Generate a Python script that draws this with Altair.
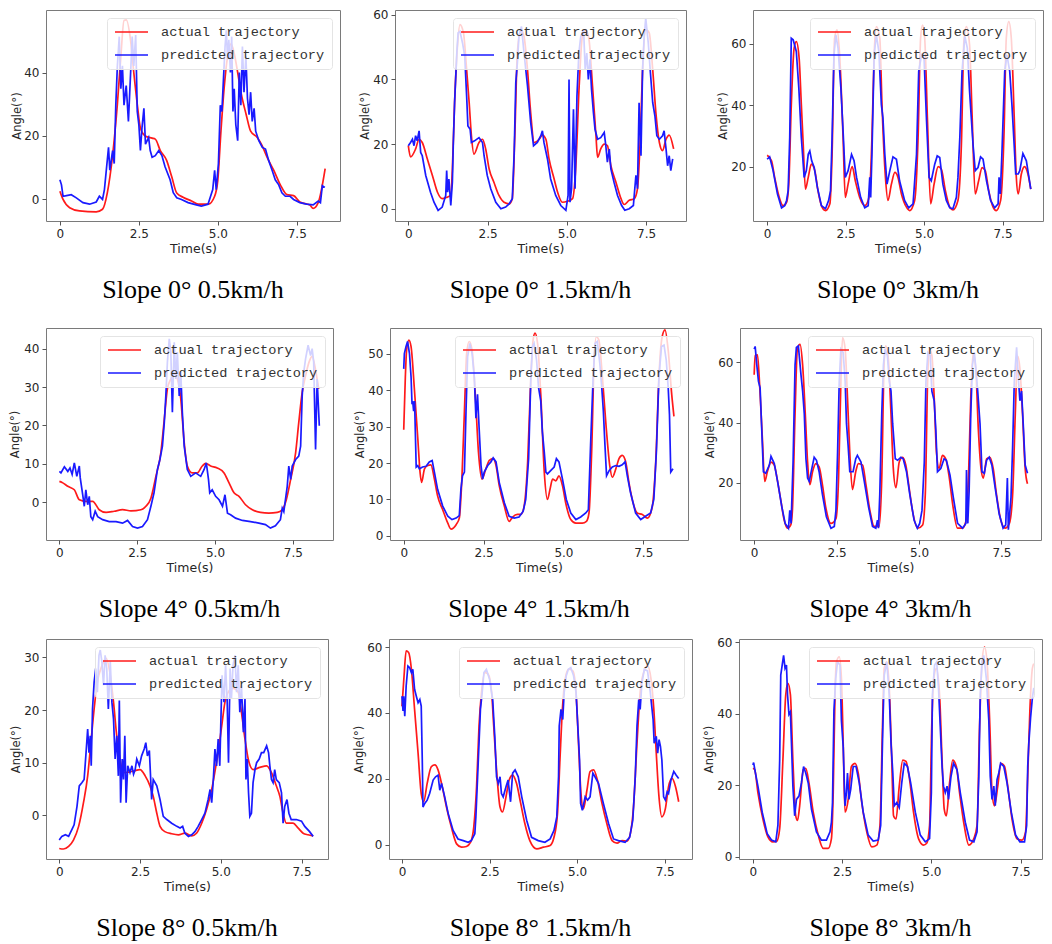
import altair as alt
import pandas as pd

# ---------------- data: [time (s), angle (deg)] ----------------
A1 = [[0,2.6],[0.1,0],[0.31,-2.6],[0.62,-3.6],[1.15,-3.9],[1.35,-3.1],[1.5,2],[1.67,14],[1.82,30],[1.93,45],[2.03,56.4],[2.1,56.6],[2.24,50],[2.34,40],[2.45,30],[2.55,22.5],[2.7,20],[2.92,19.3],[3.02,19],[3.18,15.4],[3.38,12.3],[3.54,7.2],[3.7,2],[3.9,0.7],[4.17,-0.5],[4.38,-1.5],[4.7,-1.5],[4.9,1],[5.0,6],[5.1,21.5],[5.2,35],[5.31,45],[5.42,49],[5.52,46],[5.63,40],[5.73,34],[5.9,26.7],[6.04,21.5],[6.25,19.5],[6.4,17],[6.56,13.3],[6.77,9.2],[6.98,4.6],[7.19,1.5],[7.4,1.2],[7.6,-0.8],[7.92,-1.8],[8.02,-2.8],[8.18,-1],[8.4,9.7]]
P1 = [[0,6.2],[0.05,4.6],[0.1,1.0],[0.21,1.2],[0.36,1.5],[0.52,0.5],[0.73,-1.0],[0.94,-1.5],[1.15,-0.8],[1.25,1.0],[1.35,0],[1.41,3.1],[1.46,8.2],[1.54,16.4],[1.58,9.2],[1.67,15.4],[1.72,11.3],[1.77,29.7],[1.82,42.1],[1.88,51.3],[1.93,34.9],[1.98,42.1],[2.03,29.7],[2.1,35.9],[2.17,24.6],[2.24,40],[2.29,51.3],[2.34,42.1],[2.4,51.8],[2.45,27.7],[2.5,23.6],[2.55,15.4],[2.6,22.6],[2.66,28.7],[2.71,17.4],[2.81,19.5],[2.86,15.4],[2.92,13.3],[3.02,13.8],[3.13,15.4],[3.23,13.8],[3.33,10.3],[3.49,6.2],[3.59,2.1],[3.7,0.5],[3.85,0],[4.06,-1.0],[4.32,-1.7],[4.48,-2.1],[4.69,-1.5],[4.84,3.1],[4.9,9.2],[4.95,3.1],[5.02,11.3],[5.08,29.7],[5.13,27.7],[5.19,40],[5.23,48.2],[5.27,53.3],[5.31,44.1],[5.35,50.3],[5.4,40],[5.44,51.3],[5.48,27.7],[5.52,34.9],[5.57,23.6],[5.63,18.5],[5.68,40],[5.73,29.7],[5.78,48.2],[5.83,33.8],[5.89,45.1],[5.94,31.8],[5.99,26.7],[6.04,33.8],[6.09,24.6],[6.15,28.7],[6.2,21.5],[6.3,18.5],[6.41,16.4],[6.51,15.9],[6.61,12.3],[6.72,9.2],[6.82,6.2],[6.93,4.6],[7.03,2.1],[7.14,1.0],[7.29,1.0],[7.4,0],[7.6,-1.0],[7.81,-1.5],[8.02,-1.7],[8.18,-0.5],[8.25,-1.0],[8.31,4.3],[8.39,3.8]]

A2 = [[0,19.5],[0.07,16],[0.23,18.5],[0.34,21.5],[0.44,20.5],[0.6,15.4],[0.76,10.3],[0.92,5.1],[1.07,3.1],[1.23,3.6],[1.34,4.1],[1.39,12.3],[1.46,32.8],[1.55,50.3],[1.63,57],[1.74,54.4],[1.84,43],[1.92,32.8],[1.99,22.6],[2.07,16.9],[2.23,20.5],[2.34,21.5],[2.44,18.5],[2.55,12.3],[2.7,8.2],[2.86,4.1],[3.02,2],[3.18,1.5],[3.28,3.1],[3.36,22.6],[3.44,48.2],[3.55,55.4],[3.65,53.3],[3.76,43],[3.86,29.7],[3.97,20.5],[4.13,21.5],[4.23,22.8],[4.34,21.5],[4.44,15.4],[4.6,9.2],[4.71,5.1],[4.86,2],[5.02,2.3],[5.18,3.1],[5.28,12.3],[5.39,38],[5.49,53.3],[5.6,55.4],[5.7,52.3],[5.81,38],[5.92,22.6],[5.97,15.9],[6.07,18.5],[6.18,20],[6.28,19.5],[6.39,13.3],[6.55,8.2],[6.71,3.1],[6.81,1.3],[6.97,2.6],[7.13,3.1],[7.23,6.2],[7.32,22.6],[7.39,43],[7.49,55.4],[7.6,54.4],[7.71,43],[7.81,29.7],[7.92,20.5],[8.02,18],[8.13,21.5],[8.23,22.8],[8.37,18.5]]
P2 = [[0,19.5],[0.07,20.5],[0.13,21.5],[0.18,19.5],[0.23,22.6],[0.28,21],[0.34,24.1],[0.39,17.4],[0.44,16.4],[0.55,10.3],[0.7,5.1],[0.81,2],[0.94,-0.5],[1.07,0.5],[1.18,4.1],[1.21,11.8],[1.24,5.1],[1.28,9.2],[1.34,1],[1.39,8.2],[1.42,20.5],[1.46,32.8],[1.53,48.2],[1.57,54.4],[1.63,54.9],[1.71,51.3],[1.78,47.2],[1.84,34.9],[1.88,25.6],[1.95,24.6],[1.99,20.5],[2.09,21],[2.23,22],[2.34,20.5],[2.39,16.4],[2.49,10.3],[2.6,6.2],[2.76,2],[2.92,0],[3.07,0.5],[3.18,1.5],[3.28,3.1],[3.34,17.4],[3.39,39],[3.44,45],[3.49,53.3],[3.57,56.4],[3.65,48.2],[3.76,38],[3.86,26.7],[3.95,19.5],[4.07,20.5],[4.18,22.6],[4.23,24.1],[4.28,20.5],[4.39,15.4],[4.49,9.2],[4.65,4.1],[4.81,1],[4.97,-0.5],[5.04,4.1],[5.07,40],[5.1,2],[5.15,6.2],[5.21,30.8],[5.26,6.2],[5.32,34.9],[5.38,48.2],[5.44,53.3],[5.53,55.4],[5.58,43],[5.63,48.2],[5.68,40],[5.73,46.2],[5.78,36.9],[5.84,29.7],[5.89,24.6],[5.97,21.5],[6.07,22],[6.18,23.6],[6.23,19.5],[6.28,14.4],[6.34,18.5],[6.39,12.3],[6.49,8.2],[6.6,4.1],[6.73,1],[6.83,-0.5],[6.97,0],[7.1,1],[7.18,10.3],[7.23,6.2],[7.28,32.8],[7.34,16.4],[7.39,43],[7.44,53.3],[7.49,59],[7.57,51.3],[7.63,43],[7.71,32.8],[7.78,28.7],[7.84,22.6],[7.92,21.5],[8.02,22.6],[8.07,24.1],[8.13,18.5],[8.18,13.3],[8.23,16.4],[8.28,11.8],[8.34,15.4]]

A3 = [[0,23.7],[0.14,21.9],[0.24,16.5],[0.37,10.6],[0.51,7.3],[0.62,8.4],[0.69,14.3],[0.77,40],[0.86,58.6],[0.93,60.7],[1.02,55.3],[1.09,40.2],[1.15,27.3],[1.22,12.7],[1.31,16.5],[1.41,20.8],[1.52,18.7],[1.62,12.2],[1.75,6.8],[1.86,5.7],[2.0,7.9],[2.07,24],[2.15,61.8],[2.23,64.5],[2.31,56.4],[2.42,29.5],[2.49,10],[2.58,14.3],[2.71,20],[2.81,15.4],[2.95,10],[3.11,7.3],[3.22,9],[3.27,12.2],[3.34,29.5],[3.41,56.4],[3.48,65.6],[3.59,61.8],[3.66,40.2],[3.77,16.5],[3.85,9],[3.96,14.3],[4.07,18.1],[4.17,16.5],[4.28,11.1],[4.44,6.8],[4.54,5.7],[4.7,9],[4.81,29.5],[4.89,61.8],[4.95,66.1],[5.02,61.8],[5.11,34.8],[5.21,7.9],[5.32,14.3],[5.45,20],[5.55,19.2],[5.68,12.2],[5.82,6.8],[5.92,5.9],[6.08,9],[6.19,27.3],[6.27,60.7],[6.35,65.6],[6.45,59.7],[6.53,37],[6.63,11.1],[6.74,15.4],[6.85,19.7],[6.95,18.7],[7.06,12.2],[7.2,6.8],[7.3,5.7],[7.44,9],[7.55,31.6],[7.62,61.8],[7.7,67.2],[7.78,61.8],[7.87,37],[7.94,16.5],[8.0,11.1],[8.1,17.6],[8.2,20],[8.31,17.6],[8.4,12.7]]
P3 = [[0,22.4],[0.08,23.2],[0.19,18.7],[0.33,11.1],[0.46,6.6],[0.56,7.3],[0.62,9],[0.67,12.2],[0.72,29.5],[0.77,61.8],[0.83,61.3],[0.93,57.5],[1.01,45.6],[1.09,29.5],[1.18,16.5],[1.25,18.7],[1.31,24],[1.36,25.1],[1.42,21.9],[1.5,19.7],[1.6,13.3],[1.73,7.3],[1.86,6.3],[1.96,9],[2.02,12.2],[2.07,29.5],[2.13,56.4],[2.19,62.9],[2.26,58.6],[2.35,45.6],[2.42,31.6],[2.49,16.5],[2.58,18.7],[2.69,24],[2.77,21.9],[2.85,16.5],[2.98,10],[3.11,6.6],[3.22,7.3],[3.27,16.5],[3.3,10],[3.34,24],[3.41,56.4],[3.48,62.9],[3.56,57.5],[3.64,40.2],[3.69,35.9],[3.75,24],[3.82,14.3],[3.91,18.7],[4.01,23.2],[4.12,22.4],[4.22,15.4],[4.38,9],[4.51,6.6],[4.65,7.9],[4.68,12.2],[4.76,24],[4.83,51],[4.92,56.4],[5.0,55.3],[5.08,34.8],[5.16,16.5],[5.23,15.4],[5.34,20.8],[5.42,23.5],[5.5,23],[5.6,14.3],[5.71,9],[5.82,6.6],[5.92,6.3],[6.03,10],[6.08,16.5],[6.14,29.5],[6.21,51],[6.3,62.4],[6.38,58.6],[6.45,44.6],[6.56,27.3],[6.63,18.7],[6.72,19.7],[6.8,23.2],[6.88,22.4],[6.99,15.4],[7.12,9],[7.25,6.6],[7.36,7.9],[7.39,16.5],[7.43,11.1],[7.48,24],[7.57,51],[7.64,56.4],[7.73,51],[7.8,40.2],[7.87,27.3],[7.92,17.6],[8.0,17.6],[8.05,18.7],[8.15,24.3],[8.26,21.9],[8.4,12.7]]

A4 = [[0,5.4],[0.11,5],[0.27,4.1],[0.48,3.2],[0.64,0.6],[0.85,0.2],[1.07,0.2],[1.28,-2],[1.5,-2.7],[1.76,-2.4],[2.03,-2],[2.3,-2.3],[2.62,-2],[2.78,-1.1],[2.94,1],[3.1,6.7],[3.26,12.9],[3.37,21.6],[3.47,29.5],[3.58,32.1],[3.69,33.4],[3.79,32.1],[3.9,26.9],[4.01,15.5],[4.11,9.4],[4.27,7.6],[4.43,7.6],[4.59,9.4],[4.7,10.1],[4.86,9.4],[5.07,8.9],[5.29,7.6],[5.45,5],[5.61,2.4],[5.77,1.5],[5.98,-0.7],[6.2,-2],[6.46,-2.7],[6.73,-2.9],[7.0,-2.7],[7.16,-2],[7.29,0.6],[7.43,5.9],[7.59,12.9],[7.69,20.7],[7.8,28.6],[7.91,33],[8.02,36.5],[8.12,38],[8.24,34],[8.33,29.5]]
P4 = [[0,8],[0.05,7.6],[0.16,9.2],[0.27,8],[0.34,8.9],[0.41,7.2],[0.48,10.2],[0.56,6.7],[0.64,9.4],[0.67,6.3],[0.75,1.9],[0.8,-1.1],[0.85,3.2],[0.91,-0.7],[0.96,1.5],[1.01,-3.8],[1.07,-4.6],[1.15,-2.4],[1.23,-3.8],[1.39,-4.6],[1.6,-5.1],[1.82,-5.1],[2.03,-5.5],[2.19,-4.8],[2.35,-6.4],[2.51,-6.8],[2.67,-6.4],[2.83,-4.6],[2.94,-1.1],[3.04,2.4],[3.15,8.5],[3.23,11.1],[3.31,14.6],[3.37,20.7],[3.42,27.7],[3.47,36.5],[3.53,42.6],[3.58,39.1],[3.63,23.4],[3.69,41.7],[3.74,32.1],[3.79,39.1],[3.85,27.7],[3.9,33.9],[3.95,23.4],[4.01,14.6],[4.11,8.5],[4.22,6.7],[4.38,7.6],[4.54,6.7],[4.65,8.5],[4.72,10.2],[4.79,5.9],[4.83,2.4],[4.91,3.2],[5.02,1.5],[5.13,0.6],[5.24,-1.1],[5.32,1.9],[5.4,-2.9],[5.5,-3.3],[5.66,-4.2],[5.88,-4.8],[6.14,-5.1],[6.41,-5.5],[6.62,-5.9],[6.78,-6.8],[6.94,-6.2],[7.1,-4.6],[7.16,-1.6],[7.21,-2.5],[7.32,4.1],[7.37,9.4],[7.43,5.9],[7.48,9.4],[7.59,11.1],[7.69,12],[7.75,14.6],[7.8,27.7],[7.85,33.9],[7.91,37.4],[7.99,40.9],[8.07,38.2],[8.12,40],[8.17,36.5],[8.23,13.7],[8.28,32.1],[8.35,19.9]]

A5 = [[0,29.1],[0.05,43.5],[0.09,50.9],[0.16,53.7],[0.23,51.9],[0.33,40.7],[0.44,26.8],[0.51,17.5],[0.56,14.7],[0.65,18.4],[0.75,19.3],[0.85,19.5],[0.96,15.6],[1.06,11],[1.22,7.2],[1.38,3.5],[1.48,1.9],[1.64,3.1],[1.74,4.9],[1.82,15.6],[1.9,34.2],[1.97,50],[2.05,53.3],[2.14,50.9],[2.24,38.8],[2.34,23],[2.45,15.6],[2.57,18.4],[2.68,20.7],[2.8,21.2],[2.89,19.3],[2.99,13.8],[3.15,8.2],[3.3,4],[3.41,5.2],[3.56,5.9],[3.67,5.9],[3.77,8.2],[3.88,20.3],[3.98,43.5],[4.05,53.7],[4.11,55.6],[4.19,52.8],[4.29,38.8],[4.4,17.5],[4.5,10],[4.58,12.8],[4.66,15.6],[4.76,15.1],[4.86,16.5],[4.97,13.8],[5.07,9.1],[5.23,4.5],[5.39,3.5],[5.59,3.5],[5.72,4],[5.8,6.3],[5.89,24.9],[5.96,48.1],[6.03,54.6],[6.11,53.7],[6.22,43.5],[6.34,29.6],[6.45,19.3],[6.53,16.1],[6.64,18.4],[6.74,21.2],[6.84,22.1],[6.95,20.3],[7.05,14.7],[7.18,9.1],[7.31,6.3],[7.47,5.9],[7.63,4.9],[7.73,6.3],[7.8,9.1],[7.89,20.3],[7.99,43.5],[8.09,54.6],[8.18,56.5],[8.28,50.9],[8.39,38.8],[8.46,32.8]]
P5 = [[0,45.8],[0.02,50],[0.07,51.9],[0.12,53.3],[0.18,50],[0.23,43.5],[0.26,36.1],[0.28,37],[0.31,34.2],[0.34,37],[0.36,29.6],[0.39,18.9],[0.44,19.3],[0.49,18.4],[0.59,18.9],[0.7,19.1],[0.8,20.3],[0.89,20.7],[0.96,17.5],[1.06,12.8],[1.22,8.2],[1.38,5.4],[1.51,4.5],[1.64,4.9],[1.74,5.6],[1.79,12.8],[1.84,16.5],[1.9,17.5],[1.95,34.2],[2.0,49.1],[2.07,52.8],[2.14,50],[2.21,43.5],[2.26,32.3],[2.31,38.8],[2.36,29.6],[2.42,19.3],[2.47,15.6],[2.52,17.5],[2.63,19.3],[2.73,20.3],[2.8,21.4],[2.89,20.3],[2.99,14.7],[3.15,9.1],[3.3,5.4],[3.46,4.9],[3.61,5.2],[3.74,6.8],[3.82,10],[3.91,21.2],[3.98,43.5],[4.03,51.9],[4.08,52.8],[4.16,48.1],[4.22,40.7],[4.29,37],[4.34,28.6],[4.4,23],[4.45,17.5],[4.5,17],[4.6,17.9],[4.71,18.9],[4.78,21.2],[4.86,20.3],[4.97,15.6],[5.09,10],[5.23,6.3],[5.39,4.5],[5.54,5.2],[5.7,6.3],[5.78,7.2],[5.85,24.9],[5.93,43.5],[5.99,52.8],[6.06,53.3],[6.14,47.2],[6.2,40.7],[6.25,34.2],[6.3,24.9],[6.35,16.5],[6.43,17.9],[6.53,18.9],[6.64,19.3],[6.74,19.1],[6.84,19.5],[6.93,20.3],[7.0,16.5],[7.1,11.9],[7.26,6.3],[7.42,4.5],[7.57,5.4],[7.73,6.3],[7.83,10],[7.91,23],[7.99,43.5],[8.07,51.9],[8.15,52.3],[8.22,48.1],[8.28,40.7],[8.32,33.3],[8.36,17.5],[8.43,18.4]]

A6 = [[0,55.8],[0.03,62.2],[0.1,62.4],[0.17,51.5],[0.25,34.4],[0.32,20.5],[0.4,23.7],[0.51,26.9],[0.61,25.9],[0.71,20.5],[0.81,14.1],[0.91,7.7],[1.01,5],[1.11,6.1],[1.16,10.9],[1.24,42.9],[1.31,64.3],[1.39,65.9],[1.47,59],[1.55,42.9],[1.62,26.9],[1.69,19.4],[1.77,23.7],[1.87,26.4],[1.97,25.3],[2.07,19.4],[2.17,12],[2.33,6.6],[2.48,8.2],[2.56,21.6],[2.63,53.6],[2.68,68.1],[2.76,64.3],[2.83,48.3],[2.9,30.1],[2.98,17.8],[3.08,23.7],[3.16,26.4],[3.29,25.9],[3.39,19.4],[3.51,10.9],[3.64,5.6],[3.79,5.6],[3.87,21.6],[3.94,59],[3.99,65.4],[4.07,61.1],[4.15,42.9],[4.22,24.8],[4.3,18.4],[4.4,26.9],[4.5,28.5],[4.6,25.9],[4.7,18.4],[4.8,10.9],[4.96,5],[5.11,6.1],[5.19,16.2],[5.26,53.6],[5.31,64.5],[5.39,62.2],[5.46,48.3],[5.53,30.1],[5.61,24.8],[5.71,29.1],[5.81,28],[5.92,21.6],[6.02,13],[6.17,5],[6.32,5],[6.42,7.2],[6.5,21.6],[6.57,48.3],[6.64,63],[6.72,58],[6.8,37.6],[6.88,24.8],[6.95,21.6],[7.05,28],[7.15,28.5],[7.25,24.8],[7.35,16.2],[7.48,7.7],[7.61,5],[7.74,6.6],[7.84,16.2],[7.92,42.9],[7.99,62],[8.06,58],[8.14,42.9],[8.22,24.8],[8.29,19.7]]
P6 = [[0,64.3],[0.03,65.2],[0.08,59],[0.13,53.6],[0.18,51.5],[0.23,37.6],[0.28,23.7],[0.35,23.2],[0.46,25.9],[0.51,28.8],[0.61,26.4],[0.71,20.5],[0.84,12],[0.94,6.6],[1.04,5],[1.08,10.9],[1.12,6.6],[1.18,26.9],[1.24,59],[1.28,64.9],[1.34,65.4],[1.42,55.8],[1.47,50.4],[1.52,42.9],[1.57,28],[1.62,21.6],[1.67,20.5],[1.75,24.8],[1.82,28.5],[1.89,27.5],[1.97,23.7],[2.07,16.2],[2.19,8.8],[2.33,5],[2.43,5.6],[2.48,10.9],[2.53,30.1],[2.58,53.6],[2.63,64.3],[2.7,63.2],[2.76,53.6],[2.8,39.7],[2.85,32.3],[2.9,23.7],[3.0,23.7],[3.08,28],[3.13,29.1],[3.24,26.9],[3.34,20.5],[3.47,12],[3.59,5.6],[3.69,5],[3.74,7.7],[3.77,5],[3.81,16.2],[3.87,42.9],[3.92,59],[3.97,64.3],[4.04,62.2],[4.1,53.6],[4.15,50.4],[4.2,39.7],[4.28,28],[4.35,27.5],[4.45,28.5],[4.52,28],[4.62,23.7],[4.72,16.2],[4.85,7.7],[4.95,5],[5.02,6.6],[5.09,10.9],[5.16,26.9],[5.21,53.6],[5.27,63.2],[5.34,62.2],[5.39,50.4],[5.46,47.2],[5.51,37.6],[5.56,23.7],[5.66,24.8],[5.76,28],[5.83,27.5],[5.94,22.6],[6.04,15.2],[6.17,6.6],[6.32,5],[6.42,6.6],[6.44,24.3],[6.48,6.6],[6.52,17.3],[6.57,42.9],[6.62,59],[6.68,63.2],[6.74,55.8],[6.78,50.4],[6.85,39.7],[6.91,23.7],[6.98,23.2],[7.05,27.5],[7.13,28.5],[7.21,25.9],[7.31,18.4],[7.43,9.8],[7.55,5],[7.63,6.1],[7.68,21.6],[7.71,4.5],[7.79,15.2],[7.84,32.3],[7.89,53.6],[7.96,64.9],[8.02,53.6],[8.06,47.2],[8.11,50.4],[8.16,39.7],[8.22,25.9],[8.29,23.2]]

A7 = [[0,-6.3],[0.13,-6.4],[0.29,-5.9],[0.44,-4.7],[0.6,-2.1],[0.75,2.4],[0.88,7.5],[0.98,13.8],[1.08,20.2],[1.18,25.3],[1.32,28.4],[1.45,29.8],[1.58,26.6],[1.68,21.5],[1.78,15.1],[1.88,10.7],[1.99,8.1],[2.14,8.2],[2.3,8.4],[2.5,8.7],[2.66,7.5],[2.81,5.6],[2.91,3.6],[3.02,0.4],[3.12,-2.1],[3.27,-3.1],[3.48,-3.5],[3.69,-3.7],[3.89,-3.4],[4.1,-3.9],[4.25,-3.4],[4.41,-1.5],[4.56,1.1],[4.72,4.9],[4.85,9.4],[4.92,11.9],[5.03,17],[5.13,21.5],[5.23,23.4],[5.38,24.1],[5.54,23.4],[5.64,19.6],[5.75,14.5],[5.85,10.7],[6.0,8.7],[6.21,9.1],[6.42,9.4],[6.57,8.1],[6.72,5.6],[6.83,3.6],[6.93,0.4],[7.03,-1.5],[7.24,-1.5],[7.39,-2.4],[7.55,-3.4],[7.7,-3.7],[7.86,-3.9]]
P7 = [[0,-4.7],[0.08,-4],[0.19,-3.7],[0.29,-4],[0.39,-2.7],[0.46,-1.8],[0.55,1.7],[0.62,5.6],[0.7,6.2],[0.77,6.8],[0.83,11.9],[0.88,16.4],[0.92,11.9],[0.96,15.1],[0.99,9.4],[1.03,20.2],[1.08,25.3],[1.13,27.9],[1.18,23.4],[1.23,30.4],[1.27,31.4],[1.32,29.2],[1.37,24.7],[1.42,30.4],[1.47,27.9],[1.52,20.2],[1.58,29.2],[1.63,21.5],[1.68,18.3],[1.73,10.7],[1.78,15.1],[1.83,7.5],[1.86,21.8],[1.9,2.4],[1.95,10.7],[1.99,6.8],[2.03,15.1],[2.07,2.4],[2.12,9.4],[2.19,8.1],[2.25,9.4],[2.3,7.8],[2.35,8.7],[2.4,10.7],[2.48,9.4],[2.55,11.3],[2.63,12.6],[2.68,13.8],[2.73,11.3],[2.79,12.3],[2.86,3],[2.91,6.8],[3.02,5.6],[3.12,3],[3.22,-0.2],[3.33,-0.8],[3.48,-1.5],[3.64,-2.1],[3.74,-2.4],[3.82,-2.1],[3.89,-3.4],[4.0,-4],[4.1,-3.7],[4.2,-3.1],[4.3,-2.1],[4.41,-0.8],[4.51,0.4],[4.61,3],[4.67,4.9],[4.72,2.4],[4.77,6.8],[4.82,12.6],[4.87,9.4],[4.92,14.5],[4.97,9.4],[5.0,17],[5.04,26.6],[5.1,21.5],[5.15,28.5],[5.2,21.5],[5.24,10],[5.29,27.9],[5.33,22.1],[5.38,28.5],[5.44,30.4],[5.49,23.4],[5.54,28.5],[5.59,19.6],[5.64,24.7],[5.7,15.8],[5.75,22.1],[5.78,6.8],[5.82,10.7],[5.86,4.3],[5.9,-0.2],[5.95,0.4],[6.0,6.2],[6.06,8.7],[6.11,10],[6.19,10.7],[6.26,11.9],[6.33,11.9],[6.42,13.2],[6.48,11.9],[6.52,9.4],[6.57,6.8],[6.62,6.2],[6.67,8.7],[6.72,6.8],[6.81,6.2],[6.88,4.3],[6.93,-1.5],[6.98,1.7],[7.05,3],[7.11,0.4],[7.18,-0.8],[7.34,-0.8],[7.5,-1.1],[7.6,-2.1],[7.75,-3.1],[7.86,-4]]

A8 = [[0,42],[0.06,51.3],[0.12,58.9],[0.19,58.4],[0.27,53.3],[0.36,41.1],[0.46,27.8],[0.55,15.5],[0.62,13],[0.72,18.6],[0.84,23.7],[0.94,24.2],[1.03,22.7],[1.15,17.6],[1.27,11.4],[1.41,5.3],[1.56,0.2],[1.7,-0.8],[1.84,-0.6],[1.96,0.7],[2.05,5.3],[2.13,17.6],[2.2,36],[2.27,46.2],[2.37,52.3],[2.46,51.8],[2.56,46.2],[2.62,36],[2.7,22.7],[2.8,11.4],[2.87,9.9],[2.97,14.5],[3.06,19.6],[3.16,21.1],[3.27,18.6],[3.39,12.5],[3.51,6.3],[3.65,1.2],[3.85,-1.3],[4.04,-0.8],[4.23,-0.3],[4.34,2.2],[4.44,9.4],[4.51,25.7],[4.58,41.1],[4.66,50.3],[4.75,53.3],[4.88,52.8],[4.97,46.2],[5.04,30.8],[5.11,15.5],[5.18,10.9],[5.28,16.5],[5.37,22.2],[5.47,22.7],[5.58,19.6],[5.71,12.5],[5.85,6.3],[6.0,1.2],[6.14,0.4],[6.28,1.2],[6.42,1],[6.52,3.3],[6.61,11.4],[6.71,30.8],[6.8,46.2],[6.9,52.3],[7.01,54.3],[7.11,50.3],[7.19,41.1],[7.26,27.8],[7.33,15.5],[7.42,8.4],[7.52,10.9],[7.61,17.6],[7.71,20.1],[7.81,17.6],[7.9,13]]
P8 = [[0,45.1],[0.03,40.6],[0.05,45.1],[0.08,39],[0.12,48.2],[0.17,54.3],[0.22,53.8],[0.27,52.3],[0.31,53.3],[0.36,47.2],[0.41,45.1],[0.46,43.1],[0.51,44.1],[0.55,42.1],[0.58,25.7],[0.6,11.4],[0.65,12.5],[0.72,13.5],[0.79,15.5],[0.89,19.6],[0.96,20.6],[1.03,21.1],[1.08,16.5],[1.13,18.6],[1.22,14.5],[1.32,9.4],[1.46,4.3],[1.6,1.7],[1.75,1.2],[1.89,0.7],[1.98,1.2],[2.08,3.3],[2.11,8.4],[2.16,20.6],[2.2,30.8],[2.24,41.1],[2.29,46.2],[2.34,52.3],[2.41,53.3],[2.5,50.3],[2.59,44.1],[2.65,32.9],[2.7,20.6],[2.75,18.6],[2.8,20.6],[2.84,15.5],[2.89,14.5],[2.97,17.6],[3.03,19.6],[3.1,13],[3.16,21.7],[3.23,22.7],[3.32,20.6],[3.42,14.5],[3.56,7.4],[3.7,2.2],[3.89,1.2],[4.08,0.7],[4.23,1.7],[4.34,4.3],[4.42,8.4],[4.47,20.6],[4.49,36],[4.54,41.1],[4.59,38],[4.63,46.2],[4.69,51.3],[4.75,53.3],[4.82,53.8],[4.9,51.3],[4.97,46.2],[5.02,36],[5.07,25.7],[5.1,12.5],[5.15,10.4],[5.23,14.5],[5.3,13.5],[5.37,14.5],[5.45,21.7],[5.51,20.6],[5.61,18.6],[5.75,12.5],[5.9,6.3],[6.04,1.7],[6.18,1.2],[6.37,0.7],[6.5,2.2],[6.59,7.4],[6.66,20.6],[6.71,36],[6.76,44.1],[6.8,41.1],[6.85,49.2],[6.92,53.3],[7.01,52.8],[7.09,46.2],[7.17,38],[7.2,30.8],[7.26,32.9],[7.3,27.8],[7.34,31.9],[7.38,29.8],[7.42,25.7],[7.47,14.5],[7.52,13.5],[7.57,16],[7.61,15.5],[7.68,19.6],[7.76,22.2],[7.83,21.1],[7.9,20.1]]

A9 = [[0,24.7],[0.05,24.3],[0.14,17.9],[0.28,10.5],[0.42,5.5],[0.56,4.1],[0.67,4.3],[0.75,7.8],[0.84,27],[0.92,45.3],[0.98,48.5],[1.05,45.3],[1.12,27],[1.2,11.4],[1.25,10.1],[1.31,14.2],[1.41,24.3],[1.48,24.7],[1.57,20.6],[1.69,12.4],[1.83,6],[1.97,2.3],[2.11,2.3],[2.2,5],[2.25,17.9],[2.3,45.3],[2.34,54.5],[2.42,55.9],[2.48,49.9],[2.53,31.6],[2.58,12.4],[2.67,16],[2.76,25.2],[2.86,26.1],[2.95,23.4],[3.05,15.1],[3.19,6.9],[3.33,2.7],[3.47,3.2],[3.56,8.7],[3.63,36.2],[3.68,52.7],[3.75,54.5],[3.82,47.2],[3.89,27],[3.94,11.4],[4.01,10.5],[4.1,19.7],[4.2,27],[4.29,26.6],[4.39,21.5],[4.5,12.4],[4.64,5],[4.78,3.2],[4.87,3.7],[4.95,8.7],[5.01,36.2],[5.06,49],[5.14,52.7],[5.23,45.3],[5.3,27],[5.36,13.3],[5.42,11.4],[5.51,20.6],[5.6,27],[5.7,25.2],[5.79,17.9],[5.92,8.7],[6.05,3.2],[6.19,5],[6.28,8.7],[6.35,36.2],[6.42,54.5],[6.49,58.6],[6.56,54.5],[6.64,36.2],[6.7,17.9],[6.77,14.2],[6.86,19.7],[6.95,26.1],[7.05,25.2],[7.14,19.7],[7.26,10.5],[7.4,5],[7.54,4.6],[7.64,6.9],[7.7,22.4],[7.76,40.8],[7.83,52.7],[7.87,54]]
P9 = [[0,25.6],[0.02,26.3],[0.07,23.4],[0.14,19.7],[0.26,12.4],[0.4,6.4],[0.52,4.6],[0.64,4.1],[0.7,8.7],[0.75,27],[0.78,50.8],[0.82,53.6],[0.86,56.3],[0.9,52.7],[0.94,53.6],[0.97,45.3],[1.01,39.8],[1.05,40.5],[1.09,28.8],[1.12,19.7],[1.17,11.4],[1.22,16],[1.29,16.9],[1.36,20.6],[1.42,25.2],[1.48,23.4],[1.55,20.6],[1.64,13.3],[1.78,6.9],[1.92,4.6],[2.06,4.6],[2.16,6.9],[2.2,9.6],[2.23,15.1],[2.27,40.8],[2.32,49.9],[2.37,54.5],[2.44,53.6],[2.48,38],[2.53,30.7],[2.58,14.2],[2.62,17.9],[2.65,23.4],[2.69,16],[2.74,18.8],[2.81,25.2],[2.89,25.2],[2.98,20.6],[3.09,12.4],[3.23,6],[3.37,4.3],[3.51,4.6],[3.58,8.7],[3.64,36.2],[3.68,50.8],[3.75,54.5],[3.82,45.3],[3.87,31.6],[3.92,23.4],[3.96,14.2],[4.03,15.1],[4.1,13.7],[4.17,20.6],[4.24,26.1],[4.33,25.2],[4.42,20.6],[4.55,12.4],[4.69,6],[4.83,4.1],[4.95,5],[5.0,17.9],[5.03,45.3],[5.09,53.6],[5.15,54.5],[5.2,47.2],[5.25,36.2],[5.3,25.2],[5.34,19.7],[5.39,17.9],[5.44,19.7],[5.48,16],[5.55,22.4],[5.62,26.1],[5.72,24.3],[5.81,17.9],[5.95,9.6],[6.07,4.6],[6.19,4.1],[6.28,6.9],[6.33,22.4],[6.37,45.3],[6.42,54.5],[6.47,56.3],[6.54,49.9],[6.61,38],[6.65,22.4],[6.7,16],[6.75,19.7],[6.79,14.2],[6.84,21.5],[6.89,23.4],[6.94,26.1],[7.03,25.2],[7.12,20.6],[7.24,12.4],[7.36,6],[7.48,4.1],[7.61,4.1],[7.67,8.7],[7.7,25.2],[7.73,31.6],[7.78,38.9],[7.83,44.4],[7.87,47.2]]

CAPTIONS = ["Slope 0° 0.5km/h", "Slope 0° 1.5km/h", "Slope 0° 3km/h",
            "Slope 4° 0.5km/h", "Slope 4° 1.5km/h", "Slope 4° 3km/h",
            "Slope 8° 0.5km/h", "Slope 8° 1.5km/h", "Slope 8° 3km/h"]
SERIES = ["actual trajectory", "predicted trajectory"]
X_TICKS = [0, 2.5, 5.0, 7.5]
Y_TICKS = [[0, 20, 40], [0, 20, 40, 60], [20, 40, 60],
           [0, 10, 20, 30, 40], [0, 10, 20, 30, 40, 50], [20, 40, 60],
           [0, 10, 20, 30], [0, 20, 40, 60], [0, 20, 40, 60]]
ACTUAL = [A1, A2, A3, A4, A5, A6, A7, A8, A9]
PREDICTED = [P1, P2, P3, P4, P5, P6, P7, P8, P9]

# axis domains (matplotlib-like margins) and layout per panel
X_DOM = [[-0.44, 8.87], [-0.42, 8.76], [-0.45, 8.79],
         [-0.43, 8.79], [-0.43, 8.9], [-0.43, 8.7],
         [-0.41, 8.32], [-0.37, 8.28], [-0.39, 8.1]]
Y_DOM = [[-6.8, 59.7], [-3.8, 61.5], [2.3, 71],
         [-9.9, 45.4], [-1.1, 57], [1.1, 71.3],
         [-8.3, 33.5], [-4.4, 62.5], [-0.7, 60.9]]
WIDTHS = [294, 291, 290, 287, 298, 301, 282, 303, 303]
HEIGHTS = [211, 211, 211, 212, 212, 212, 220, 220, 220]
Y_EXT = [22, 23, 23, 24, 23, 23, 23, 23, 23]
H_SPACING = [[17, 29], [19, 14], [23, 9]]


def panel(i):
    da = pd.DataFrame(ACTUAL[i], columns=["t", "v"])
    da["series"] = SERIES[0]
    dp = pd.DataFrame(PREDICTED[i], columns=["t", "v"])
    dp["series"] = SERIES[1]
    x = alt.X("t:Q", scale=alt.Scale(domain=X_DOM[i], nice=False, zero=False),
              axis=alt.Axis(title="Time(s)", values=X_TICKS,
                            labelExpr="datum.value == 0 ? '0' : format(datum.value, '.1f')"))
    y = alt.Y("v:Q", scale=alt.Scale(domain=Y_DOM[i], nice=False, zero=False),
              axis=alt.Axis(title="Angle(°)", values=Y_TICKS[i],
                            minExtent=Y_EXT[i], maxExtent=Y_EXT[i]))
    color = alt.Color("series:N", title=None,
                      scale=alt.Scale(domain=SERIES, range=["#ff1a1a", "#1a1aff"]))
    la = alt.Chart(da).mark_line(interpolate="monotone", strokeWidth=1.7, clip=True).encode(x=x, y=y, color=color)
    lp = alt.Chart(dp).mark_line(strokeWidth=1.7, clip=True).encode(x=x, y=y, color=color)
    return alt.layer(la, lp).properties(
        width=WIDTHS[i], height=HEIGHTS[i],
        title=alt.TitleParams(CAPTIONS[i], orient="bottom", offset=22,
                              font="Liberation Serif", fontSize=26,
                              fontWeight="normal", color="black"))


def indep(c):
    return c.resolve_scale(color="independent").resolve_legend(color="independent")


rows = []
for r in range(3):
    p = [panel(3 * r + k) for k in range(3)]
    inner = indep(alt.hconcat(p[0], p[1], spacing=H_SPACING[r][0]))
    rows.append(indep(alt.hconcat(inner, p[2], spacing=H_SPACING[r][1])))

top = indep(alt.vconcat(rows[0], rows[1], spacing=24))
chart = indep(alt.vconcat(top, rows[2], spacing=13)).properties(
    padding={"left": 0, "top": 0, "right": 0, "bottom": 0},
    background="white",
).configure_view(
    stroke="#7a7a7a", strokeWidth=1
).configure_axis(
    labelFont="DejaVu Sans", labelFontSize=12, labelColor="#262626",
    titleFont="DejaVu Sans", titleFontSize=12.5, titleFontWeight="normal", titleColor="#262626",
    tickColor="#555555", tickSize=4, labelPadding=3, domain=False, grid=False,
).configure_axisX(titlePadding=3).configure_axisY(titlePadding=2, titleFontSize=11.5).configure_legend(
    orient="top-right", offset=8, symbolType="stroke", symbolSize=1089, symbolStrokeWidth=1.7,
    clipHeight=14, rowPadding=9, padding=7, labelOffset=12,
    fillColor="rgba(255,255,255,0.8)", strokeColor="#e4e4e4", cornerRadius=3,
    labelFont="Liberation Mono", labelFontSize=13.6, labelColor="#333333", labelLimit=400,
)

chart.save("out.html", embed_options={"renderer": "svg", "actions": False})
